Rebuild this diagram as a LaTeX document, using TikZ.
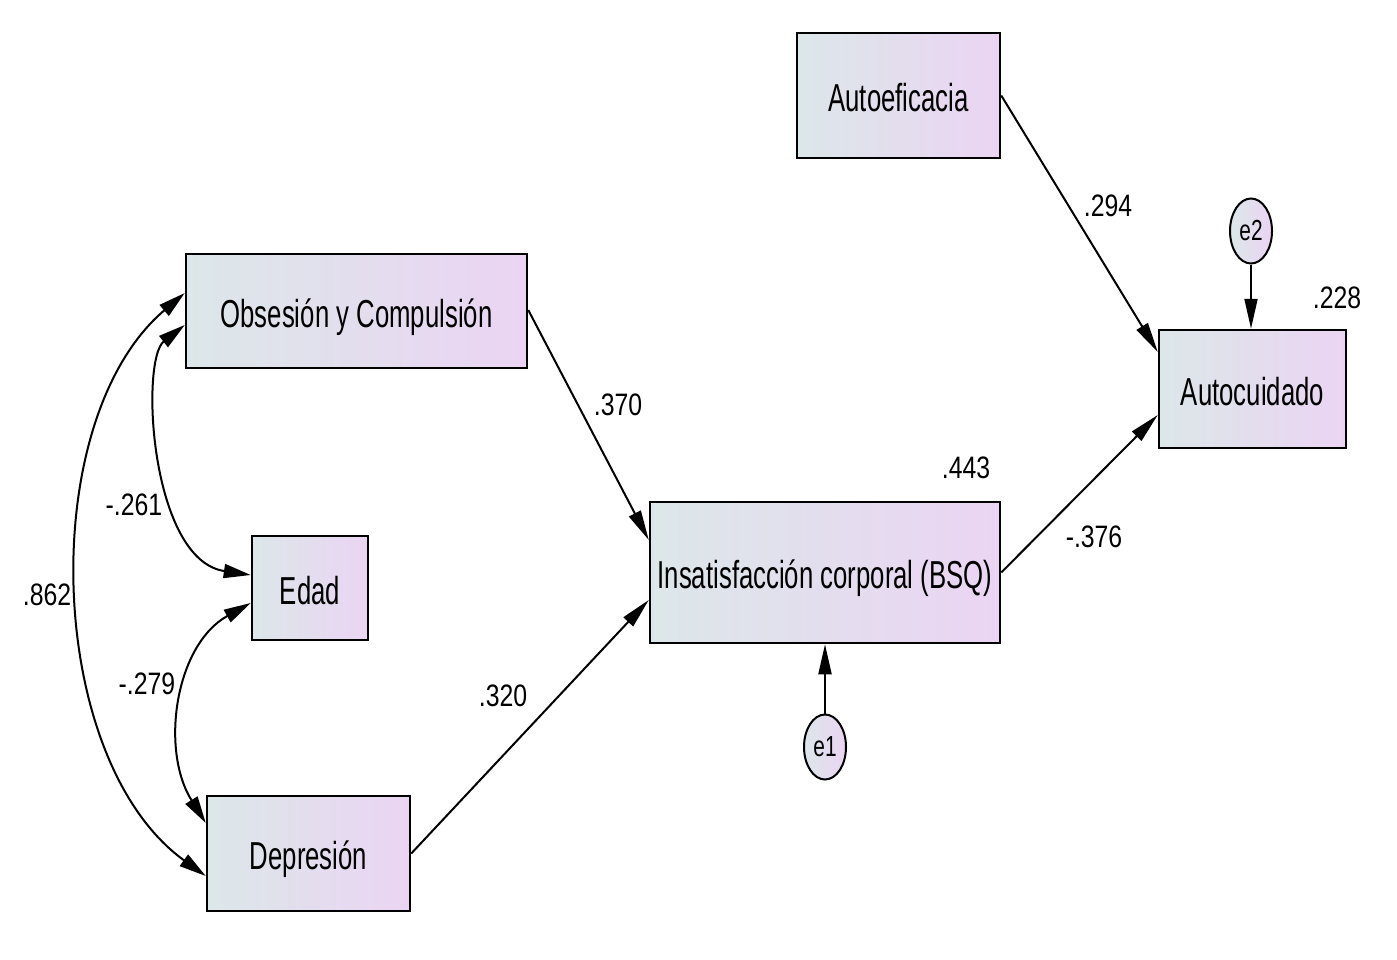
\documentclass[tikz,border=0pt]{standalone}
\usepackage{fontspec}
\setmainfont{Liberation Sans}
\newfontfamily\boxfont[FakeStretch=0.66]{Liberation Sans}
\newfontfamily\labfont[FakeStretch=0.8]{Liberation Sans}
\newfontfamily\errfont[FakeStretch=0.72]{Liberation Sans}
\usetikzlibrary{arrows.meta,shapes.geometric,calc}
\definecolor{cL}{RGB}{220,231,233}
\definecolor{cR}{RGB}{235,212,243}
\tikzset{
  var/.style={draw=black, line width=2.5pt, left color=cL, right color=cR, inner sep=0pt,
    text height=34pt, text depth=2pt,
    font=\boxfont\fontsize{39}{44}\selectfont},
  err/.style={ellipse, draw=black, line width=2pt, left color=cL, right color=cR, inner sep=0pt,
    minimum width=42pt, minimum height=65pt, font=\errfont\fontsize{29}{32}\selectfont},
  lab/.style={inner sep=0pt, font=\labfont\fontsize{31}{36}\selectfont},
  pth/.style={line width=2pt, -{Triangle[length=30pt,width=13pt]}},
  cov/.style={line width=2pt, {Triangle[length=27pt,width=14pt]}-{Triangle[length=27pt,width=14pt]}}
}
\begin{document}
\begin{tikzpicture}[x=1pt,y=-1pt]
\fill[white] (0,0) rectangle (1397,960);
\useasboundingbox (0,0) rectangle (1397,960);
\node[var, minimum width=203pt, minimum height=125pt] (autoef) at (898.5,95.5) {Autoeficacia};
\node[var, minimum width=341pt, minimum height=114pt] (obs) at (356.5,311) {Obsesión y Compulsión};
\node[var, minimum width=116pt, minimum height=104pt] (edad) at (310,588) {Edad};
\node[var, minimum width=203pt, minimum height=115pt] (dep) at (308.5,853.5) {Depresión};
\node[var, minimum width=350pt, minimum height=141pt] (ins) at (825,572.5) {Insatisfacción corporal (BSQ)};
\node[var, minimum width=187pt, minimum height=118pt] (autoc) at (1252.5,389) {Autocuidado};
\node[err] (e1) at (825,747) {e1};
\node[err] (e2) at (1251,231) {e2};

\draw[pth] ([yshift=1pt]obs.east) -- ([yshift=32.5pt]ins.west);
\draw[pth] (dep.east) -- ([yshift=-27.5pt]ins.west);
\draw[pth] (ins.east) -- ([yshift=-26pt]autoc.west);
\draw[pth] (autoef.east) -- ([yshift=37pt]autoc.west);
\draw[pth] (e2.south) -- (e2.south |- autoc.north);
\draw[pth] (e1.north) -- (e1.north |- ins.south);

\draw[cov] ([yshift=18pt]obs.west) .. controls (35,420) and (45,760) .. ([yshift=-22.5pt]dep.west);
\draw[cov] ([yshift=-14pt]obs.west) .. controls (140,360) and (150,560) .. ([yshift=13pt]edad.west);
\draw[cov] ([yshift=-15pt]edad.west) .. controls (175,645) and (160,750) .. ([yshift=30.5pt]dep.west);

\node[lab] (l1) at (618,405) {.370};
\node[lab] (l2) at (134,505) {-.261};
\node[lab] (l3) at (966,468) {.443};
\node[lab] (l4) at (1094,537) {-.376};
\node[lab] (l5) at (1108,206) {.294};
\node[lab] (l6) at (1337,298) {.228};
\node[lab] (l7) at (503,696) {.320};
\node[lab] (l8) at (147,684) {-.279};
\node[lab] (l9) at (47,595) {.862};
\end{tikzpicture}
\end{document}
